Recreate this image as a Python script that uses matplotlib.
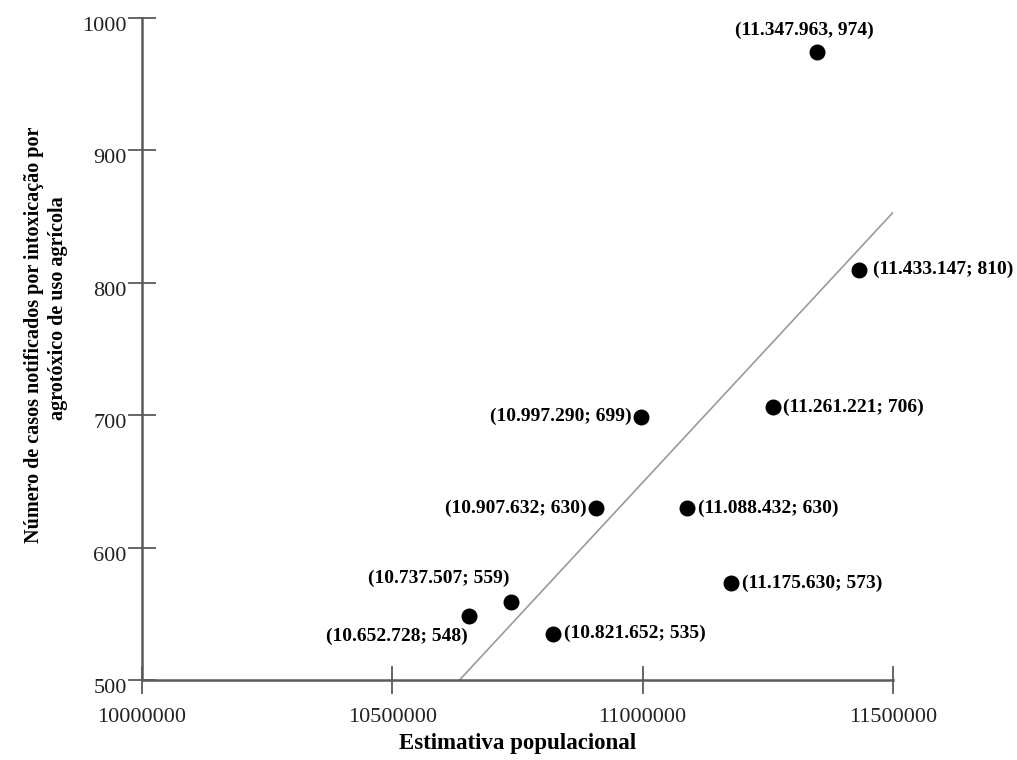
import matplotlib
matplotlib.use("Agg")
import matplotlib.pyplot as plt
import matplotlib.transforms as mtransforms
import numpy as np

plt.rcParams["font.family"] = ["Liberation Serif", "DejaVu Serif"]

# population estimate and notified cases
population = [10652728, 10737507, 10821652, 10907632, 10997290,
              11088432, 11175630, 11261221, 11347963, 11433147]
cases = [548, 559, 535, 630, 699, 630, 573, 706, 974, 810]
point_labels = [
    "(10.652.728; 548)", "(10.737.507; 559)", "(10.821.652; 535)",
    "(10.907.632; 630)", "(10.997.290; 699)", "(11.088.432; 630)",
    "(11.175.630; 573)", "(11.261.221; 706)", "(11.347.963, 974)",
    "(11.433.147; 810)",
]
x_ticks = [10000000, 10500000, 11000000, 11500000]
y_ticks = [500, 600, 700, 800, 900, 1000]
ylabel_lines = ["Número de casos notificados por intoxicação por",
                "agrotóxico de uso agrícola"]

# label offsets (points) and alignment per point
label_pos = [
    ((-52, -14), "center"), ((-52, 17), "center"), ((8, 0), "left"),
    ((-7, 0), "right"), ((-7, 0), "right"), ((8, 0), "left"),
    ((8, 0), "left"), ((7, 0), "left"), ((-9, 16), "center"),
    ((10, 0), "left"),
]

fig = plt.figure(figsize=(10.17, 7.6), dpi=100)
ax = fig.add_axes([0.1396, 0.1053, 0.7384, 0.871])

# regression line, clipped to the plot frame
slope, intercept = np.polyfit(population, cases, 1)
x0 = (y_ticks[0] - intercept) / slope
x1 = x_ticks[-1]
ax.plot([x0, x1], [slope * x0 + intercept, slope * x1 + intercept],
        color="#9a9a9a", lw=1.2, zorder=1)

ax.scatter(population, cases, s=110, color="black", zorder=3)

for px, py, txt, (off, ha) in zip(population, cases, point_labels, label_pos):
    ax.annotate(txt, (px, py), xytext=off, textcoords="offset points",
                ha=ha, va="center", fontsize=14, fontweight="bold")

ax.set_xlim(x_ticks[0], x_ticks[-1])
ax.set_ylim(y_ticks[0], y_ticks[-1])
ax.set_xticks(x_ticks)
ax.set_yticks(y_ticks)
ax.set_xticklabels([str(v) for v in x_ticks])
ax.set_yticklabels([str(v) for v in y_ticks])

for side in ["top", "right"]:
    ax.spines[side].set_visible(False)
for side in ["left", "bottom"]:
    ax.spines[side].set_color("#5a5a5a")
    ax.spines[side].set_linewidth(1.8)

ax.tick_params(axis="both", direction="inout", length=20, width=1.3,
               color="#5a5a5a", labelsize=16, labelcolor="#222222")
ax.tick_params(axis="x", pad=10)
ax.tick_params(axis="y", pad=1)

# y tick labels sit a little below their ticks
shift = mtransforms.ScaledTranslation(0, -6 / 100, fig.dpi_scale_trans)
for lbl in ax.get_yticklabels():
    lbl.set_transform(lbl.get_transform() + shift)

ax.set_xlabel("Estimativa populacional", fontsize=16.5, fontweight="bold")
ax.xaxis.set_label_coords(0.5, -0.080)

# two-line y label, second line is not centred on the first
ax.text(-0.1435, 0.521, ylabel_lines[0], transform=ax.transAxes, rotation=90,
        ha="center", va="center", fontsize=14.5, fontweight="bold")
ax.text(-0.1115, 0.562, ylabel_lines[1], transform=ax.transAxes, rotation=90,
        ha="center", va="center", fontsize=14.5, fontweight="bold")

fig.savefig("out.png", dpi=100)
